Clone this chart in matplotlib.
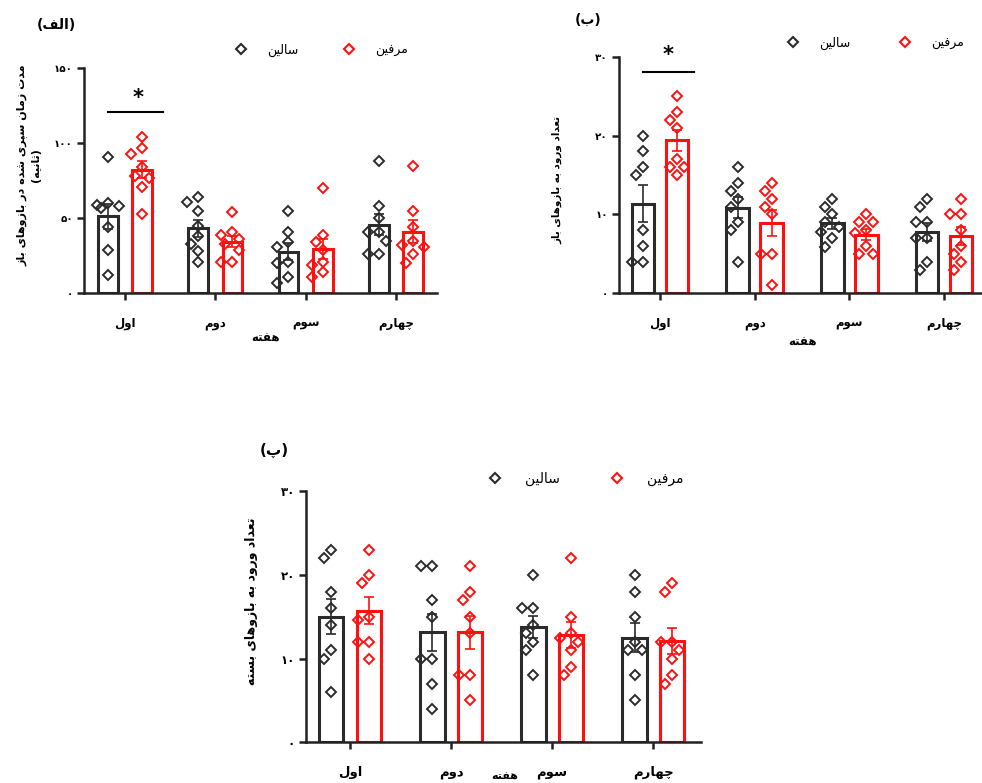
import numpy as np
import matplotlib
matplotlib.use('Agg')
import matplotlib.pyplot as plt
from matplotlib.lines import Line2D
from matplotlib import font_manager
from matplotlib.ft2font import FT2Font

plt.rcParams['font.family'] = ['DejaVu Sans']

weeks = ['اول', 'دوم', 'سوم', 'چهارم']
groups = ['سالین', 'مرفین']
xlabel = 'هفته'
titles = ['(الف)', '(ب)', '(پ)']
ylabels = ['مدت زمان سپری شده در بازوهای باز\n(ثانیه)',
           'تعداد ورود به بازوهای باز',
           'تعداد ورود به بازوهای بسته']

# panel A: time spent in open arms (s), 8 animals per week
a_saline = [[91, 60, 59, 58, 57, 44, 29, 12],
            [64, 61, 55, 45, 38, 33, 28, 21],
            [55, 41, 34, 31, 21, 20, 11, 7],
            [88, 58, 50, 41, 41, 35, 26, 26]]
a_morphine = [[104, 97, 93, 84, 78, 77, 71, 53],
              [54, 41, 39, 36, 33, 29, 21, 21],
              [70, 39, 34, 29, 21, 19, 11, 14],
              [85, 55, 44, 35, 32, 31, 26, 20]]

# panel B: open arm entries
b_saline = [[20, 18, 16, 15, 8, 6, 4, 4],
            [16, 14, 13, 12, 11, 9, 8, 4],
            [12, 11, 10, 9, 8.4, 7.8, 7, 5.9],
            [12, 11, 9, 9, 7, 7, 4, 3]]
b_morphine = [[25, 23, 22, 21, 17, 16, 16, 15],
              [14, 13, 12, 11, 10, 5, 5, 1],
              [10, 9, 9, 8, 7.6, 6, 5, 5],
              [12, 10, 10, 8, 6, 5, 4, 3]]

# panel C: closed arm entries
c_saline = [[23, 22, 18, 16, 14, 11, 10, 6],
            [21, 21, 17, 15, 10, 10, 7, 4],
            [20, 16, 16, 14, 13, 12, 11, 8],
            [20, 18, 15, 12, 11, 11, 8, 5]]
c_morphine = [[23, 20, 19, 15, 14.6, 12, 12, 10],
              [21, 18, 17, 15, 13, 8, 8, 5],
              [22, 15, 13, 12.5, 12, 11, 9, 8],
              [19, 18, 12, 12, 11, 10, 8, 7]]

# significance: (y of line, y of star)
sig_a = (121, 130)
sig_b = (28, 30.2)

# ---- simple persian shaping (matplotlib has no arabic shaping) ----
FORMS = {
    'ا': (0xFE8D, 0xFE8E, None, None),
    'ب': (0xFE8F, 0xFE90, 0xFE91, 0xFE92),
    'پ': (0xFB56, 0xFB57, 0xFB58, 0xFB59),
    'ت': (0xFE95, 0xFE96, 0xFE97, 0xFE98),
    'ث': (0xFE99, 0xFE9A, 0xFE9B, 0xFE9C),
    'چ': (0xFB7A, 0xFB7B, 0xFB7C, 0xFB7D),
    'د': (0xFEA9, 0xFEAA, None, None),
    'ر': (0xFEAD, 0xFEAE, None, None),
    'ز': (0xFEAF, 0xFEB0, None, None),
    'س': (0xFEB1, 0xFEB2, 0xFEB3, 0xFEB4),
    'ش': (0xFEB5, 0xFEB6, 0xFEB7, 0xFEB8),
    'ع': (0xFEC9, 0xFECA, 0xFECB, 0xFECC),
    'ف': (0xFED1, 0xFED2, 0xFED3, 0xFED4),
    'ل': (0xFEDD, 0xFEDE, 0xFEDF, 0xFEE0),
    'م': (0xFEE1, 0xFEE2, 0xFEE3, 0xFEE4),
    'ن': (0xFEE5, 0xFEE6, 0xFEE7, 0xFEE8),
    'ه': (0xFEE9, 0xFEEA, 0xFEEB, 0xFEEC),
    'و': (0xFEED, 0xFEEE, None, None),
    'ی': (0xFBFC, 0xFBFD, 0xFBFE, 0xFBFF),
}
_fpath = font_manager.findfont(font_manager.FontProperties(family='DejaVu Sans', weight='bold'))
_ft = FT2Font(_fpath)
for k, v in list(FORMS.items()):
    if any(c is not None and _ft.get_char_index(c) == 0 for c in v):
        if k == 'ی':
            FORMS[k] = (0xFEEF, 0xFEF0, 0xFEF3, 0xFEF4)


def shape_line(s):
    out = []
    n = len(s)
    for i, ch in enumerate(s):
        f = FORMS.get(ch)
        if f is None:
            out.append(ch)
            continue
        prev = FORMS.get(s[i - 1]) if i > 0 else None
        nxt = FORMS.get(s[i + 1]) if i < n - 1 else None
        pj = prev is not None and prev[2] is not None
        nj = nxt is not None and f[2] is not None
        if pj and nj:
            c = f[3]
        elif pj:
            c = f[1]
        elif nj:
            c = f[2]
        else:
            c = f[0]
        out.append(chr(c))
    vis = ''.join(out[::-1])
    return vis.translate(str.maketrans('()', ')('))


def fa(s):
    return '\n'.join(shape_line(l) for l in s.split('\n'))


def fa_num(v):
    return str(int(v)).translate(str.maketrans('0123456789', '۰۱۲۳۴۵۶۷۸۹'))


W, H = 982, 783
fig = plt.figure(figsize=(W / 100, H / 100), dpi=100)


def rect(x0, y0, x1, y1):
    return [x0 / W, 1 - y1 / H, (x1 - x0) / W, (y1 - y0) / H]


def swarm(vals, xpx, ypx):
    # place points side by side inside the bar when they would overlap
    order = np.argsort(vals)[::-1]
    placed = []
    xs = np.zeros(len(vals))
    for i in order:
        y = vals[i] * ypx
        best, bestd = 0, -1
        for k in [0, -7, 7, -11, 11]:
            d = min([np.hypot(k - px, y - py) for px, py in placed] + [99])
            if d >= 10:
                best = k
                break
            if d > bestd:
                best, bestd = k, d
        placed.append((best, y))
        xs[i] = best / xpx
    return xs


RED = '#ff1010'
BLK = '#2b2b2b'


def panel(ax, sal, mor, ymax, ystep, xlim, px_w, px_h, off, bw, fs):
    ax.set_xlim(*xlim)
    ax.set_ylim(0, ymax)
    xpx = px_w / (xlim[1] - xlim[0])
    ypx = px_h / ymax
    x = np.arange(len(weeks))
    for data, col, sgn in [(sal, BLK, -1), (mor, RED, 1)]:
        data = [np.array(d, float) for d in data]
        means = np.array([d.mean() for d in data])
        sems = np.array([d.std(ddof=1) / np.sqrt(len(d)) for d in data])
        xc = x + sgn * off
        ax.bar(xc, means, width=bw, facecolor='white', edgecolor=col, linewidth=2.2, zorder=2)
        for xi, d in zip(xc, data):
            ax.plot(xi + swarm(d, xpx, ypx), d, ls='none', marker='D', ms=5, mfc='none',
                    mec=col, mew=1.4, zorder=3, clip_on=False)
        ax.errorbar(xc, means, yerr=sems, fmt='none', ecolor=col, elinewidth=1.2,
                    capsize=3.5, capthick=1.2, zorder=4)
    for s in ['top', 'right']:
        ax.spines[s].set_visible(False)
    for s in ['left', 'bottom']:
        ax.spines[s].set_linewidth(1.8)
        ax.spines[s].set_color('#222222')
    yt = np.arange(0, ymax + 1, ystep)
    ax.set_yticks(yt)
    ax.set_yticklabels([fa_num(v) for v in yt], fontsize=fs - 1, fontweight='bold')
    ax.set_xticks(x)
    ax.set_xticklabels([fa(w) for w in weeks], fontsize=fs, fontweight='bold')
    ax.tick_params(axis='both', length=5, width=1.8, color='#222222')
    ax.tick_params(axis='x', pad=12)
    ax.tick_params(axis='y', pad=3)


# panel A
axA = fig.add_axes(rect(84, 68, 437, 293))
panel(axA, a_saline, a_morphine, 150, 50, (-0.454, 3.455), 353, 225, 0.19, 0.22, 8.5)
axA.plot([-0.19, 0.42], [sig_a[0]] * 2, color='black', lw=1.5)
axA.text(0.14, sig_a[1], '*', ha='center', va='center', fontsize=15, fontweight='bold')

# panel B
axB = fig.add_axes(rect(619, 56.7, 990, 293.3))
panel(axB, b_saline, b_morphine, 30, 10, (-0.433, 3.485), 371, 236.6, 0.18, 0.24, 8.5)
axB.plot([-0.18, 0.36], [sig_b[0]] * 2, color='black', lw=1.5)
axB.text(0.08, sig_b[1], '*', ha='center', va='center', fontsize=15, fontweight='bold', clip_on=False)

# panel C
axC = fig.add_axes(rect(306, 491, 700.7, 742.3))
panel(axC, c_saline, c_morphine, 30, 10, (-0.436, 3.47), 394.7, 251.3, 0.185, 0.24, 9.5)

# titles, axis labels
fig.text(37 / W, 1 - 25 / H, fa(titles[0]), fontsize=10, fontweight='bold', ha='left', va='center')
fig.text(575 / W, 1 - 20 / H, fa(titles[1]), fontsize=10, fontweight='bold', ha='left', va='center')
fig.text(260 / W, 1 - 450 / H, fa(titles[2]), fontsize=11, fontweight='bold', ha='left', va='center')

fig.text(29 / W, 1 - 165 / H, fa(ylabels[0]), rotation=90, fontsize=8, fontweight='bold',
         ha='center', va='center', multialignment='center', linespacing=1.5)
fig.text(557 / W, 1 - 180 / H, fa(ylabels[1]), rotation=90, fontsize=7.5, fontweight='bold',
         ha='center', va='center')
fig.text(252 / W, 1 - 601 / H, fa(ylabels[2]), rotation=90, fontsize=9, fontweight='bold',
         ha='center', va='center')

fig.text(266 / W, 1 - 338 / H, fa(xlabel), fontsize=8.5, fontweight='bold', ha='center', va='center')
fig.text(803 / W, 1 - 342 / H, fa(xlabel), fontsize=8.5, fontweight='bold', ha='center', va='center')
fig.text(505 / W, 1 - 777 / H, fa(xlabel), fontsize=8, fontweight='bold', ha='center', va='center')


# legends
def legend(x, y, fs, htp, cs):
    hs = [Line2D([], [], ls='none', marker='D', ms=5.5, mfc='none', mec=c, mew=1.5) for c in (BLK, RED)]
    fig.legend(hs, [fa(g) for g in groups], loc='center left', bbox_to_anchor=(x / W, 1 - y / H),
               ncol=2, frameon=False, fontsize=fs, handlelength=1, handletextpad=htp,
               columnspacing=cs, borderpad=0, borderaxespad=0)


legend(235, 50, 9, 1.6, 3.5)
legend(787, 43, 9, 1.6, 3.8)
legend(488, 479, 10, 1.66, 3.6)

fig.savefig('out.png', dpi=100)
